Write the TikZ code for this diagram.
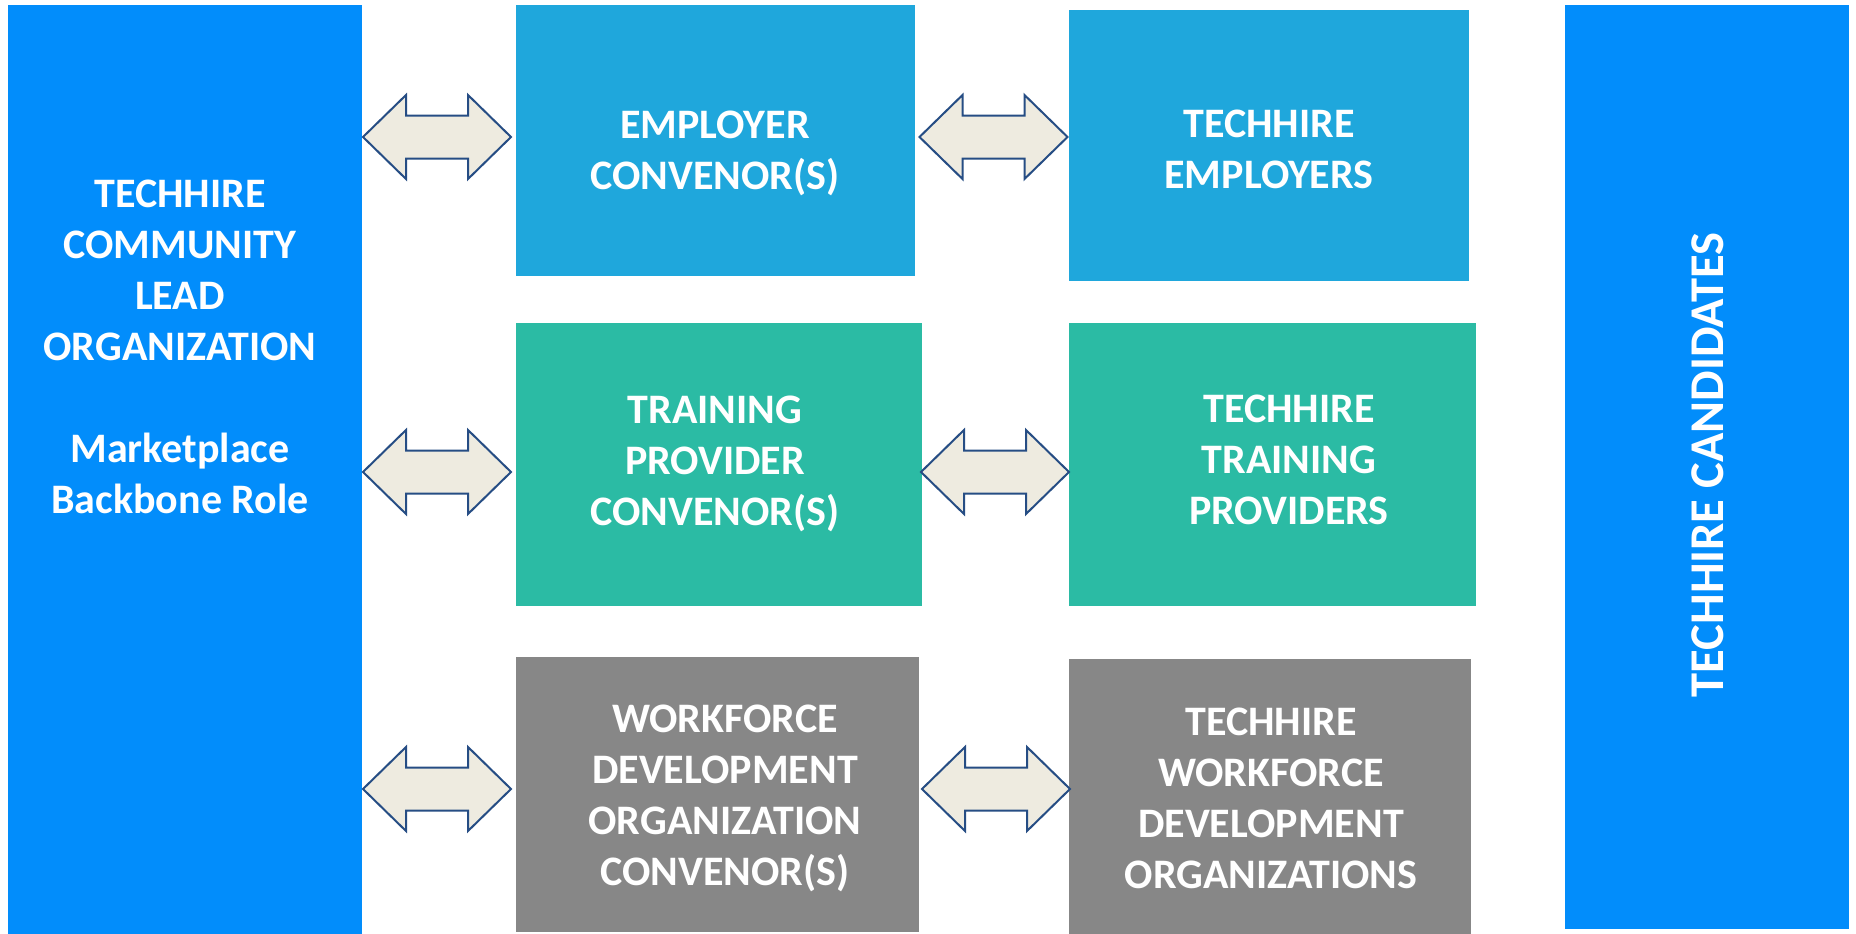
\documentclass[tikz,border=0pt]{standalone}
\usepackage{fontspec}
\setmainfont{Carlito}
\definecolor{bigblue}{RGB}{2,141,251}
\definecolor{empblue}{RGB}{31,167,220}
\definecolor{teal}{RGB}{43,187,164}
\definecolor{greybox}{RGB}{135,135,135}
\definecolor{arrfill}{RGB}{238,235,224}
\definecolor{arrline}{RGB}{38,77,132}
\begin{document}
\begin{tikzpicture}[x=1pt,y=-1pt,
  box/.style={rectangle, inner sep=0pt, outer sep=0pt, draw=none},
  txt/.style={text=white, font=\fontsize{42}{51}\selectfont\bfseries, align=center, inner sep=0pt},
  dbl/.pic={\draw[fill=arrfill, draw=arrline, line width=2pt, line join=miter]
     (-74,0) -- (-31,-42) -- (-31,-21.5) -- (31,-21.5) -- (31,-42) -- (74,0)
     -- (31,42) -- (31,21.5) -- (-31,21.5) -- (-31,42) -- cycle;}]
\useasboundingbox[fill=white] (0,0) rectangle (1856,934);
% large side boxes
\node[box, fill=bigblue, minimum width=354pt, minimum height=929pt] (lead) at (185,469.5) {};
\node[box, fill=bigblue, minimum width=284pt, minimum height=924pt] (cand) at (1707,467) {};
% row 1
\node[box, fill=empblue, minimum width=399pt, minimum height=271pt] (ec) at (715.5,140.5) {};
\node[box, fill=empblue, minimum width=400pt, minimum height=271pt] (te) at (1269,145.5) {};
% row 2
\node[box, fill=teal, minimum width=406pt, minimum height=283pt] (tc) at (719,464.5) {};
\node[box, fill=teal, minimum width=407pt, minimum height=283pt] (tt) at (1272.5,464.5) {};
% row 3
\node[box, fill=greybox, minimum width=403pt, minimum height=275pt] (wc) at (717.5,794.5) {};
\node[box, fill=greybox, minimum width=402pt, minimum height=275pt] (tw) at (1270,796.5) {};
% texts
\node[txt] (leadtxt) at (180,347) {TECHHIRE\\COMMUNITY\\LEAD\\ORGANIZATION\\[51pt]Marketplace\\Backbone Role};
\node[txt, rotate=90, font=\fontsize{48.5}{58}\selectfont\bfseries] (candtxt) at (1708,465) {TECHHIRE CANDIDATES};
\node[txt] (ectxt) at (715,153) {EMPLOYER\\CONVENOR(S)};
\node[txt] (tetxt) at (1269,149.5) {TECHHIRE\\EMPLOYERS};
\node[txt] (tctxt) at (715,464) {TRAINING\\PROVIDER\\CONVENOR(S)};
\node[txt] (tttxt) at (1289,460) {TECHHIRE\\TRAINING\\PROVIDERS};
\node[txt] (wctxt) at (725,798.5) {WORKFORCE\\DEVELOPMENT\\ORGANIZATION\\CONVENOR(S)};
\node[txt] (twtxt) at (1271,798) {TECHHIRE\\WORKFORCE\\DEVELOPMENT\\ORGANIZATIONS};
% double arrows between boxes
\pic at (437,137) {dbl};
\pic at (993.5,137) {dbl};
\pic at (437,472) {dbl};
\pic at (995,472) {dbl};
\pic at (437,789) {dbl};
\pic at (996,789) {dbl};
\end{tikzpicture}
\end{document}
